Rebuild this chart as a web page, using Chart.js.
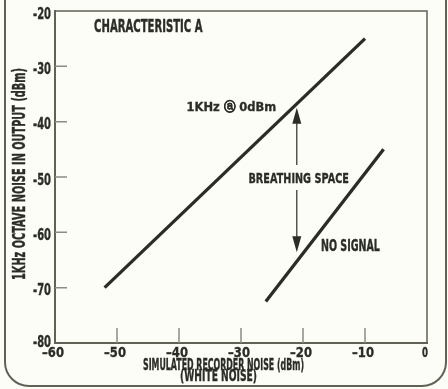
<!DOCTYPE html>
<html>
<head>
<meta charset="utf-8">
<script src="https://cdn.jsdelivr.net/npm/chart.js@4"></script>
<style>
  html, body { margin: 0; padding: 0; background: #fdfdf7; }
  #wrap { width: 448px; height: 389px; }
</style>
</head>
<body>
<div id="wrap"><canvas id="chart"></canvas></div>
<script>
const xTicks = [-60, -50, -40, -30, -20, -10, 0];
const yTicks = [-20, -30, -40, -50, -60, -70, -80];
const signalX = [-52, -10];
const signalY = [-70, -25];
const noSignalX = [-26, -7];
const noSignalY = [-72.5, -45];
const arrowX = -21;
const arrowTop = -37.5;
const arrowBottom = -63.6;

const INK = "#2b2c25";
const FRAME = "#5f6256";
const FONT = "'DejaVu Sans', sans-serif";

// text inside the plot, in data units: x0..x1 is the span, y the baseline
const notes = [
  { text: "CHARACTERISTIC A", x0: -53.7, x1: -36.2, y: -23.8, cap: 12 },
  { text: "1KHz \u24d0 0dBm", x0: -38.8, x1: -24.3, y: -38.1, cap: 9 },
  { text: "BREATHING SPACE", x0: -28.8, x1: -12.6, y: -51.1, cap: 10 },
  { text: "NO SIGNAL", x0: -17.1, x1: -7.6, y: -63.4, cap: 10.5 }
];

// draws text squeezed into a box: left..right wide, cap letters cap px tall
function boxText(ctx, text, left, right, baseline, cap) {
  ctx.save();
  ctx.font = `bold 20px ${FONT}`;
  ctx.textAlign = "left";
  ctx.textBaseline = "alphabetic";
  const w = ctx.measureText(text).width;
  const h = ctx.measureText("H").actualBoundingBoxAscent || 14.6;
  ctx.translate(left, baseline);
  ctx.scale((right - left) / w, cap / h);
  ctx.strokeStyle = ctx.fillStyle;
  ctx.lineWidth = 0.5;
  ctx.strokeText(text, 0, 0);
  ctx.fillText(text, 0, 0);
  ctx.restore();
}

const decor = {
  id: "decor",
  beforeDraw(c) {
    const ctx = c.ctx;
    ctx.save();
    ctx.fillStyle = "#fdfdf7";
    ctx.fillRect(0, 0, c.width, c.height);
    ctx.strokeStyle = FRAME;
    ctx.lineWidth = 2;
    ctx.beginPath();
    ctx.roundRect(5, -40, 441, 426, 24);
    ctx.stroke();
    ctx.restore();
  },
  afterDraw(c) {
    const ctx = c.ctx;
    const { x, y } = c.scales;
    const a = c.chartArea;
    ctx.save();
    ctx.strokeStyle = FRAME;
    ctx.lineWidth = 1.5;
    ctx.beginPath();
    ctx.moveTo(a.left, a.top);
    ctx.lineTo(a.right, a.top);
    ctx.lineTo(a.right, a.bottom);
    ctx.stroke();

    // inward ticks
    ctx.strokeStyle = "#8a8c82";
    ctx.beginPath();
    y.ticks.forEach(t => {
      if (t.value <= -80 || t.value >= -20) return;
      const py = y.getPixelForValue(t.value);
      ctx.moveTo(a.left, py);
      ctx.lineTo(a.left + 12, py);
    });
    x.ticks.forEach(t => {
      if (t.value <= -60 || t.value >= 0) return;
      const px = x.getPixelForValue(t.value);
      ctx.moveTo(px, a.bottom);
      ctx.lineTo(px, a.bottom - 15);
    });
    ctx.stroke();

    ctx.fillStyle = INK;
    // tick labels
    y.ticks.forEach(t => {
      const py = y.getPixelForValue(t.value);
      const base = t.value === -80 ? py + 4 : py + 7.5;
      boxText(ctx, "-" + Math.abs(t.value), a.left - 22, a.left - 4, base, 10.5);
    });
    x.ticks.forEach(t => {
      const px = x.getPixelForValue(t.value) - 2;
      if (t.value === 0) boxText(ctx, "0", px - 3, px + 3, a.bottom + 14, 9.5);
      else boxText(ctx, "\u2013" + Math.abs(t.value), px - 11, px + 11, a.bottom + 14, 9.5);
    });

    notes.forEach(n => {
      boxText(ctx, n.text, x.getPixelForValue(n.x0), x.getPixelForValue(n.x1),
        y.getPixelForValue(n.y), n.cap);
    });

    // breathing space arrow
    const ax = x.getPixelForValue(arrowX);
    const t = y.getPixelForValue(arrowTop);
    const b = y.getPixelForValue(arrowBottom);
    const mid = y.getPixelForValue(notes[2].y) - 5;
    ctx.strokeStyle = INK;
    ctx.lineWidth = 1.2;
    ctx.beginPath();
    ctx.moveTo(ax, t + 10);
    ctx.lineTo(ax, mid - 13);
    ctx.moveTo(ax, mid + 12);
    ctx.lineTo(ax, b - 10);
    ctx.stroke();
    ctx.beginPath();
    ctx.moveTo(ax, t);
    ctx.lineTo(ax - 4.5, t + 16);
    ctx.lineTo(ax + 4.5, t + 16);
    ctx.closePath();
    ctx.moveTo(ax, b);
    ctx.lineTo(ax - 4.5, b - 16);
    ctx.lineTo(ax + 4.5, b - 16);
    ctx.closePath();
    ctx.fill();

    // axis titles
    boxText(ctx, "SIMULATED RECORDER NOISE (dBm)", 143, 304, 370, 10.5);
    boxText(ctx, "(WHITE NOISE)", 180, 257, 381, 10.5);
    ctx.save();
    ctx.translate(25, 280);
    ctx.rotate(-Math.PI / 2);
    boxText(ctx, "1KHz OCTAVE NOISE IN OUTPUT (dBm)", 0, 212, 0, 12);
    ctx.restore();
    ctx.restore();
  }
};

const toPoints = (xs, ys) => xs.map((v, i) => ({ x: v, y: ys[i] }));

new Chart(document.getElementById("chart"), {
  type: "line",
  data: {
    datasets: [
      { label: "1KHz @ 0dBm", data: toPoints(signalX, signalY) },
      { label: "No signal", data: toPoints(noSignalX, noSignalY) }
    ]
  },
  options: {
    responsive: true,
    maintainAspectRatio: false,
    animation: false,
    devicePixelRatio: 1,
    layout: { padding: { top: 11, right: 21, left: 0, bottom: 0 } },
    elements: {
      line: { borderColor: INK, borderWidth: 3.3, borderCapStyle: "butt", tension: 0 },
      point: { radius: 0 }
    },
    plugins: { legend: { display: false }, tooltip: { enabled: false } },
    scales: {
      x: {
        type: "linear",
        min: -60, max: 0,
        afterFit: s => { s.height = 46; },
        afterBuildTicks: s => { s.ticks = xTicks.map(v => ({ value: v })); },
        grid: { display: false, drawTicks: false },
        border: { display: true, color: FRAME, width: 2 },
        ticks: { display: false }
      },
      y: {
        type: "linear",
        min: -80, max: -20,
        afterFit: s => { s.width = 55; },
        afterBuildTicks: s => { s.ticks = yTicks.map(v => ({ value: v })); },
        grid: { display: false, drawTicks: false },
        border: { display: true, color: FRAME, width: 2 },
        ticks: { display: false }
      }
    }
  },
  plugins: [decor]
});
</script>
</body>
</html>
